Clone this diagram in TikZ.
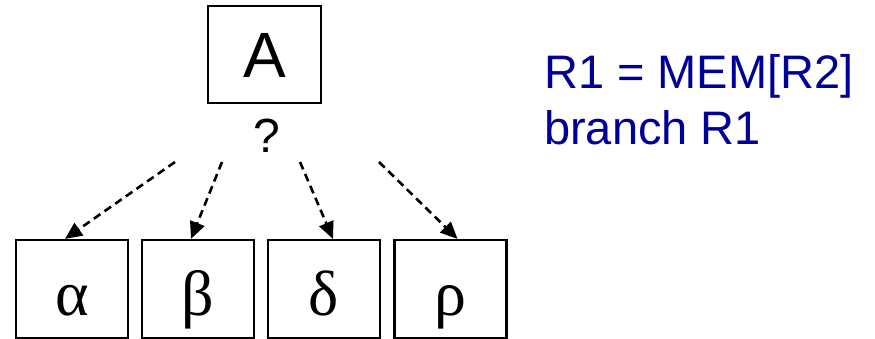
\documentclass[tikz,border=0pt]{standalone}
\usepackage{fontspec}
\setmainfont{Liberation Sans}
\newfontfamily\greekfont{Liberation Serif}
\usetikzlibrary{arrows.meta,calc}
\definecolor{navy}{RGB}{0,0,153}
\tikzset{
  box/.style={draw,line width=2.2pt,inner sep=0pt,minimum width=112pt,minimum height=98pt},
  greekbox/.style={box,font=\greekfont\fontsize{64}{64}\selectfont,text height=60pt,text depth=8pt},
  tipstyle/.tip={Triangle[length=17pt,width=15pt]},
  link/.style={line width=2.6pt,dash pattern=on 8pt off 5pt,-tipstyle}
}
\tikzset{note/.style={text=navy,font=\fontsize{47}{56}\selectfont,anchor=base west,inner sep=0pt,align=left}}
\begin{document}
\begin{tikzpicture}[x=1pt,y=-1pt]
\useasboundingbox (0,0) rectangle (875,339);
\node[box,minimum width=113pt,minimum height=97pt,font=\fontsize{64}{64}\selectfont,text height=47pt,text depth=0pt] (A) at (264.5,54.5) {A};
\node[font=\fontsize{48}{48}\selectfont,anchor=base,inner sep=0pt] (q) at (267,153) {?};
\node[greekbox] (b1) at (72,289) {α};
\node[greekbox] (b2) at (198,289) {β};
\node[greekbox] (b3) at (324,289) {δ};
\node[greekbox] (b4) at (450.5,289) {ρ};
\coordinate (s1) at (175,162);
\coordinate (s2) at (222,162);
\coordinate (s3) at (300,162);
\coordinate (s4) at (379,162);
\draw[link] (s1) -- ($(b1.north)+(-7,0)$);
\draw[link] (s2) -- ($(b2.north)+(-7,0)$);
\draw[link] (s3) -- ($(b3.north)+(9,0)$);
\draw[link] (s4) -- ($(b4.north)+(7,0)$);
\node[note] (code) at (544,145) {R1 = MEM[R2]\\branch R1};
\end{tikzpicture}
\end{document}
